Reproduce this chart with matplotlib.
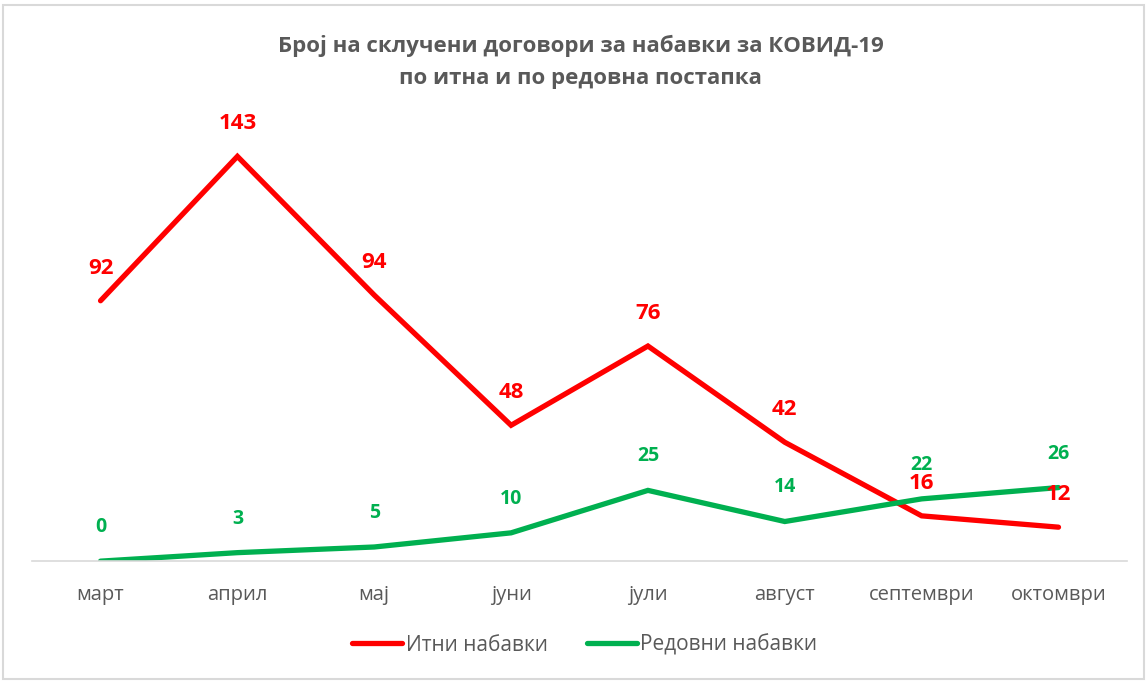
import matplotlib.pyplot as plt
from matplotlib.patches import Rectangle

plt.rcParams['font.family'] = ['Open Sans', 'DejaVu Sans']

meseci = ['март', 'април', 'мај', 'јуни', 'јули', 'август', 'септември', 'октомври']
itni = [92, 143, 94, 48, 76, 42, 16, 12]
redovni = [0, 3, 5, 10, 25, 14, 22, 26]

crvena = '#FF0000'
zelena = '#00B050'
siva = '#595959'

fig = plt.figure(figsize=(11.47, 6.81), dpi=100)
ax = fig.add_axes([0.028, 0.176, 0.9545, 0.665])

x = range(len(meseci))
ax.plot(x, itni, color=crvena, lw=3.8, solid_capstyle='round', solid_joinstyle='miter', label='Итни набавки')
ax.plot(x, redovni, color=zelena, lw=3.8, solid_capstyle='round', solid_joinstyle='miter', label='Редовни набавки')

for i, v in enumerate(itni):
    ax.annotate(str(v), (i, v), xytext=(0, 23.5), textcoords='offset points',
                ha='center', va='center', color=crvena, fontsize=16, fontweight='bold')
for i, v in enumerate(redovni):
    ax.annotate(str(v), (i, v), xytext=(0, 24.5), textcoords='offset points',
                ha='center', va='center', color=zelena, fontsize=14, fontweight='bold')

ax.set_xlim(-0.5, len(meseci) - 0.5)
ax.set_ylim(0, 160)
ax.set_xticks(list(x))
ax.set_xticklabels(meseci, color=siva, fontsize=14.5)
ax.tick_params(axis='x', length=0, pad=17)
ax.set_yticks([])
for s in ['top', 'left', 'right']:
    ax.spines[s].set_visible(False)
ax.spines['bottom'].set_color('#D9D9D9')
ax.spines['bottom'].set_linewidth(1.2)

fig.text(0.506, 0.933, 'Број на склучени договори за набавки за КОВИД-19', ha='center', va='center',
         fontsize=16, fontweight='bold', color=siva)
fig.text(0.506, 0.884, 'по итна и по редовна постапка', ha='center', va='center',
         fontsize=16, fontweight='bold', color=siva)

leg = fig.legend(loc='center', bbox_to_anchor=(0.51, 0.053), ncol=2, frameon=False,
                 fontsize=15, handlelength=2.4, handletextpad=0.15, columnspacing=1.9)
for t in leg.get_texts():
    t.set_color(siva)

fig.patches.append(Rectangle((0.003, 0.003), 0.994, 0.99, transform=fig.transFigure,
                             fill=False, edgecolor='#D9D9D9', lw=1.5))

fig.savefig('out.png', dpi=100)
